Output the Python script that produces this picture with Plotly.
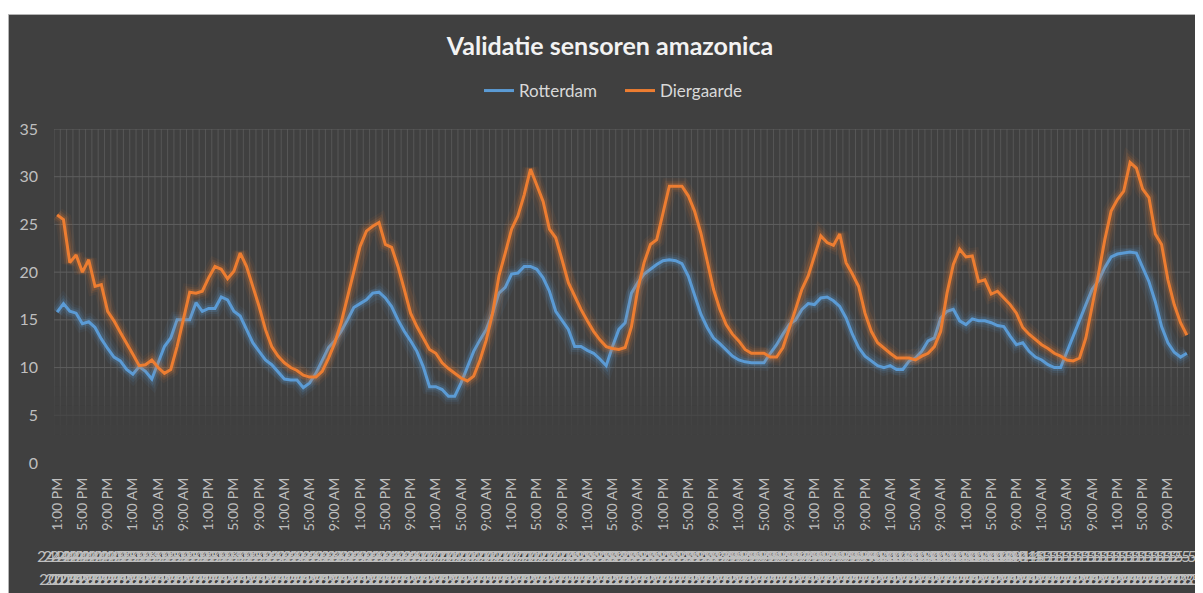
import plotly.graph_objects as go
import pandas as pd

# ---------------- data ----------------
times = pd.date_range("2023-04-24 13:00", periods=180, freq="h")

rotterdam = [
    15.8, 16.7, 15.9, 15.7, 14.6, 14.8, 14.2, 13.0, 12.0, 11.1,
    10.7, 9.8, 9.3, 10.1, 9.6, 8.8, 10.5, 12.2, 13.1, 15.0,
    15.0, 15.0, 16.8, 15.9, 16.2, 16.2, 17.4, 17.1, 15.9, 15.4,
    14.0, 12.6, 11.7, 10.8, 10.3, 9.5, 8.8, 8.7, 8.7, 7.9,
    8.4, 9.4, 10.8, 12.1, 12.8, 13.8, 15.0, 16.3, 16.7, 17.1,
    17.8, 17.9, 17.3, 16.4, 15.0, 13.8, 12.8, 11.7, 10.1, 8.0,
    8.0, 7.7, 7.0, 7.0, 8.4, 10.1, 11.7, 12.9, 14.0, 15.7,
    17.8, 18.4, 19.8, 19.9, 20.6, 20.6, 20.3, 19.4, 18.0, 15.9,
    14.9, 14.0, 12.2, 12.2, 11.8, 11.5, 10.9, 10.2, 12.2, 14.0,
    14.7, 17.8, 18.9, 19.8, 20.3, 20.8, 21.2, 21.3, 21.2, 20.9,
    19.6, 17.5, 15.6, 14.2, 13.1, 12.5, 11.9, 11.2, 10.8, 10.6,
    10.5, 10.5, 10.5, 11.5, 12.4, 13.5, 14.5, 15.0, 16.1, 16.7,
    16.6, 17.3, 17.4, 17.0, 16.4, 15.2, 13.5, 12.1, 11.2, 10.7,
    10.2, 10.0, 10.2, 9.8, 9.8, 10.7, 11.0, 11.7, 12.8, 13.1,
    15.2, 15.9, 16.1, 14.9, 14.5, 15.1, 14.9, 14.9, 14.7, 14.4,
    14.3, 13.3, 12.4, 12.6, 11.7, 11.1, 10.8, 10.3, 10.0, 10.0,
    11.7, 13.3, 14.9, 16.6, 18.2, 19.1, 20.5, 21.6, 21.9, 22.0,
    22.1, 22.0, 20.4, 19.0, 16.9, 14.3, 12.6, 11.6, 11.1, 11.5,
]

diergaarde = [
    26.0, 25.5, 21.0, 21.8, 20.0, 21.3, 18.5, 18.7, 15.9, 14.9,
    13.7, 12.6, 11.4, 10.2, 10.3, 10.8, 10.0, 9.4, 9.8, 12.2,
    15.2, 17.9, 17.8, 18.0, 19.4, 20.6, 20.3, 19.3, 20.1, 22.0,
    20.6, 18.5, 16.4, 14.0, 12.2, 11.2, 10.5, 10.0, 9.7, 9.2,
    9.0, 9.0, 9.6, 11.0, 12.6, 14.7, 17.3, 19.9, 22.7, 24.3,
    24.8, 25.2, 22.9, 22.6, 20.6, 18.2, 15.7, 14.3, 13.1, 11.9,
    11.5, 10.5, 9.9, 9.4, 8.9, 8.6, 9.1, 10.8, 12.9, 15.7,
    19.6, 22.0, 24.5, 25.9, 28.1, 30.8, 29.0, 27.4, 24.5, 23.6,
    21.3, 18.9, 17.5, 16.1, 14.9, 13.8, 12.9, 12.2, 12.0, 11.9,
    12.1, 14.3, 18.2, 21.0, 22.9, 23.4, 26.2, 29.0, 29.0, 29.0,
    28.0, 26.4, 24.1, 21.0, 18.2, 16.1, 14.5, 13.5, 12.8, 11.9,
    11.5, 11.5, 11.5, 11.1, 11.1, 12.1, 14.0, 16.1, 18.2, 19.6,
    21.7, 23.8, 23.1, 22.8, 24.0, 21.0, 19.8, 18.5, 15.7, 13.8,
    12.6, 12.0, 11.5, 11.0, 11.0, 11.0, 10.8, 11.2, 11.5, 12.2,
    13.8, 17.8, 20.8, 22.4, 21.6, 21.7, 19.0, 19.2, 17.7, 18.0,
    17.3, 16.6, 15.7, 14.2, 13.5, 12.9, 12.4, 12.0, 11.5, 11.2,
    10.8, 10.7, 11.0, 13.1, 16.3, 19.8, 23.4, 26.4, 27.6, 28.5,
    31.5, 30.9, 28.7, 27.8, 24.0, 22.9, 19.2, 16.6, 14.7, 13.4,
]

series_names = ["Rotterdam", "Diergaarde"]
series_colors = ["#5B9BD5", "#ED7D31"]
y_ticks = [0, 5, 10, 15, 20, 25, 30, 35]

# ---------------- derived ----------------
n = len(times)
idx = list(range(n))
tick_idx = idx[::4]
tick_text = [t.strftime("%-I:%M %p") for t in times[::4]]
date_top = [f"{t.day}-{t.month}-" for t in times]
date_bot = [f"{t.year}" for t in times]

BG = "#404040"
TXT = "#bfbfbf"
FONT = "Lato"

# The page body has an 8px margin, so figure pixel = screenshot pixel - 8
OFF = 8
W, H = 1203 - OFF, 593 - OFF
L, R, T, B = 54 - OFF, 13, 129 - OFF, 130
PW, PH = W - L - R, H - T - B


def py_paper(py):          # screenshot y pixel -> paper y
    return (H - B - (py - OFF)) / PH


def px_paper(px):          # screenshot x pixel -> paper x
    return ((px - OFF) - L) / PW


fig = go.Figure()

for name, vals, col in zip(series_names, [rotterdam, diergaarde], series_colors):
    for w, op in [(16, 0.06), (11, 0.10), (7, 0.18)]:
        fig.add_trace(go.Scatter(x=idx, y=vals, mode="lines",
                                 line=dict(color=col, width=w),
                                 opacity=op, showlegend=False, hoverinfo="skip"))
    fig.add_trace(go.Scatter(x=idx, y=vals, mode="lines", name=name,
                             line=dict(color=col, width=3)))

shapes = []
# chart frame / background
shapes.append(dict(type="rect", xref="paper", yref="paper", layer="below",
                   x0=px_paper(8.5), x1=px_paper(1210),
                   y0=py_paper(600), y1=py_paper(14.5),
                   fillcolor=BG, line=dict(color="#b4b4b4", width=1)))
# vertical gridlines (category boundaries)
for k in range(n + 1):
    shapes.append(dict(type="line", xref="x", yref="y", layer="below",
                       x0=k - 0.5, x1=k - 0.5, y0=0, y1=35,
                       line=dict(color="#565656", width=1)))
# horizontal gridlines
for v in y_ticks:
    shapes.append(dict(type="line", xref="x", yref="y", layer="below",
                       x0=-0.5, x1=n - 0.5, y0=v, y1=v,
                       line=dict(color="#5f5f5f", width=1)))
# fading of the gridlines towards the bottom
bands = [(9, 10, 0.1), (8, 9, 0.25), (7, 8, 0.4), (6, 7, 0.55), (5, 6, 0.7),
         (4, 5, 0.82), (3, 4, 0.92), (-1, 3, 1.0)]
for y0, y1, op in bands:
    shapes.append(dict(type="rect", xref="x", yref="y", layer="below",
                       x0=-0.6, x1=n - 0.4, y0=y0, y1=y1,
                       fillcolor=BG, opacity=op, line=dict(width=0)))

# date labels: one per category, overlapping as in the original
annotations = []
for i in idx:
    annotations.append(dict(x=i, y=py_paper(555), xref="x", yref="paper",
                            text=date_top[i], showarrow=False, yanchor="middle",
                            font=dict(family=FONT, size=16, color=TXT)))
    annotations.append(dict(x=i, y=py_paper(578), xref="x", yref="paper",
                            text=date_bot[i], showarrow=False, yanchor="middle",
                            font=dict(family=FONT, size=16, color=TXT)))

fig.update_layout(
    width=W, height=H,
    margin=dict(l=L, r=R, t=T, b=B, pad=0),
    paper_bgcolor="white",
    plot_bgcolor="rgba(0,0,0,0)",
    title=dict(text="Validatie sensoren amazonica", x=px_paper(610), xanchor="center",
               xref="paper",
               y=1 - (46 - OFF) / H, yref="container", yanchor="middle",
               font=dict(family=FONT, size=25, color="#f2f2f2", weight="bold")),
    legend=dict(orientation="h", x=px_paper(620), xanchor="center",
                y=py_paper(91), yanchor="middle",
                font=dict(family=FONT, size=17, color="#d9d9d9"),
                bgcolor="rgba(0,0,0,0)", itemwidth=30,
                entrywidth=96, entrywidthmode="pixels"),
    xaxis=dict(range=[-0.5, n - 0.5], tickmode="array", tickvals=tick_idx,
               ticktext=tick_text, tickangle=-90, showgrid=False,
               zeroline=False, showline=False, ticks="",
               ticklabelstandoff=11,
               tickfont=dict(family=FONT, size=14, color=TXT)),
    yaxis=dict(range=[0, 35], tickmode="array", tickvals=y_ticks,
               showgrid=False, zeroline=False, showline=False, ticks="",
               ticklabelstandoff=15,
               tickfont=dict(family=FONT, size=16, color=TXT)),
    shapes=shapes,
    annotations=annotations,
    showlegend=True,
)

fig.write_html("out.html")
